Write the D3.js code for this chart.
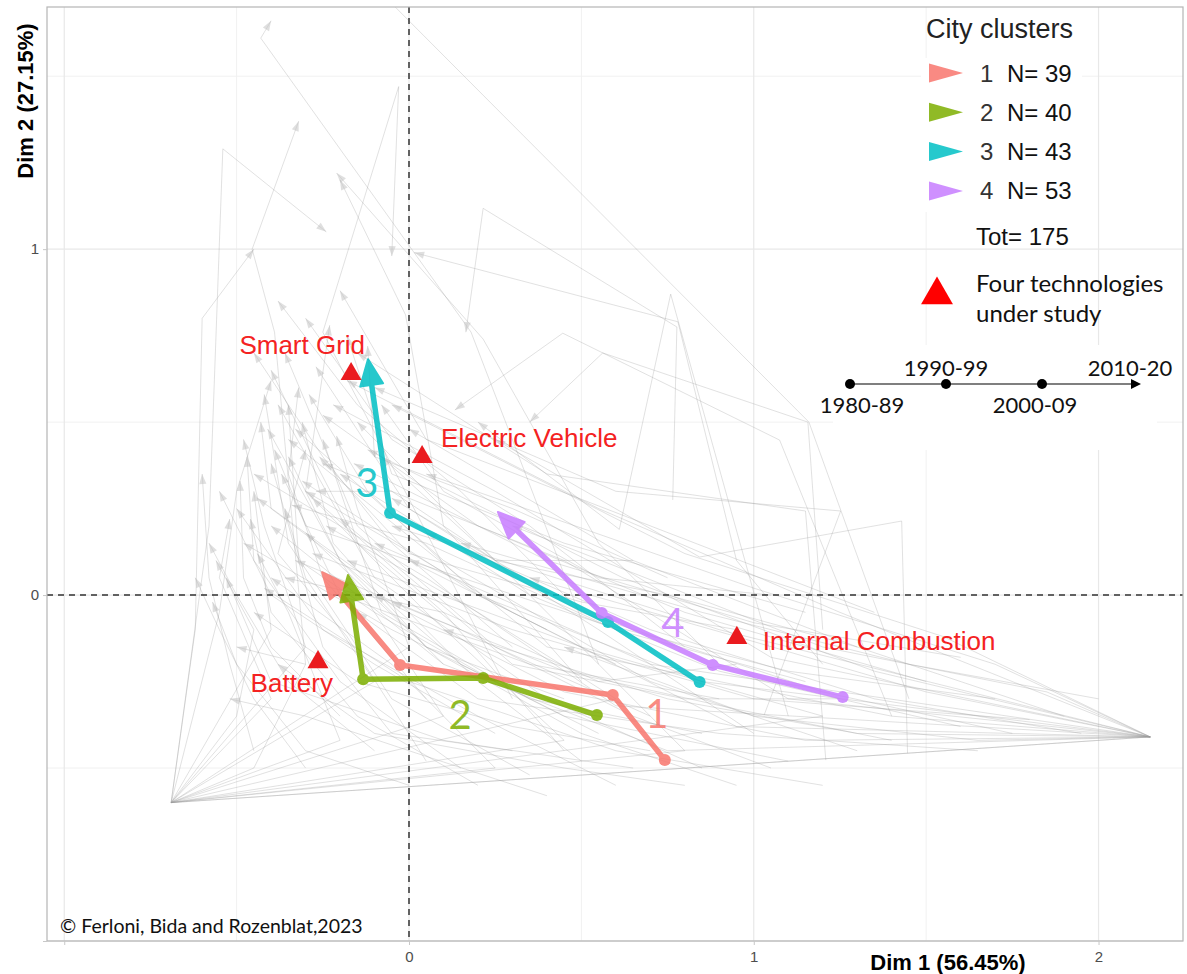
<!DOCTYPE html>
<html>
<head>
<meta charset="utf-8">
<script src="https://cdn.jsdelivr.net/npm/d3@7"></script>
<style>
body{margin:0;background:#fff;}
svg{display:block;}
</style>
</head>
<body>
<svg id="chart" width="1187" height="974"></svg>
<script>
// ---------- data ----------
var clusterIds=["1","2","3","4"];
var clusterN=[39,40,43,53];
var clusterTotal=175;
var clusterColors=["#F8766D","#7CAE00","#00BFC4","#C77CFF"];
var periods=["1980-89","1990-99","2000-09","2010-20"];

// mean path of each cluster: [dim1,dim2] for each period
var clusterPaths=[
	[[0.742,-0.477],[0.591,-0.289],[-0.026,-0.202],[-0.252,0.066]],
	[[0.545,-0.347],[0.215,-0.240],[-0.133,-0.243],[-0.177,0.058]],
	[[0.843,-0.251],[0.577,-0.078],[-0.055,0.237],[-0.119,0.682]],
	[[1.258,-0.295],[0.881,-0.202],[0.559,-0.052],[0.258,0.240]]
];
var clusterLabelX=[0.719,0.148,-0.122,0.765];
var clusterLabelY=[-0.384,-0.387,0.283,-0.121];

var techNames=["Smart Grid","Electric Vehicle","Battery","Internal Combustion"];
var techX=[-0.168,0.038,-0.264,0.951];
var techY=[0.639,0.399,-0.194,-0.124];

// single city paths (grey): x1,y1, x2,y2, x3,y3, x4,y4 (one pair per period)
var cityPaths=[
	[2.15,-0.41, 1.35,-0.22, 0.62,0.05, -0.12,0.42],
	[2.15,-0.41, 1.10,-0.30, 0.45,0.10, -0.25,0.38],
	[2.15,-0.41, 1.55,-0.12, 0.80,0.12, -0.05,0.55],
	[2.15,-0.41, 0.95,-0.38, 0.30,-0.05, -0.30,0.30],
	[2.15,-0.41, 1.25,-0.05, 0.55,0.25, -0.18,0.62],
	[2.15,-0.41, 0.75,-0.45, 0.10,-0.20, -0.40,0.20],
	[2.15,-0.41, 1.70,-0.20, 1.00,0.02, 0.05,0.35],
	[2.15,-0.41, 1.40,-0.35, 0.40,-0.15, -0.35,0.45],
	[2.15,-0.41, 0.60,-0.32, 0.05,0.05, -0.45,0.35],
	[2.15,-0.41, 1.85,-0.28, 1.20,-0.15, 0.30,0.20],
	[2.15,-0.41, 1.05,-0.18, 0.25,0.30, -0.22,0.55],
	[2.15,-0.41, 1.60,-0.33, 0.70,-0.20, -0.10,0.15],
	[2.15,-0.41, -0.69,-0.60, -0.40,-0.10, -0.45,0.30],
	[-0.69,-0.60, 2.15,-0.41, 0.90,-0.10, -0.05,0.20],
	[-0.69,-0.60, -0.30,-0.15, -0.42,0.20, -0.48,0.45],
	[-0.69,-0.60, -0.55,-0.05, -0.50,0.30, -0.40,0.62],
	[-0.69,-0.60, 0.10,-0.35, -0.20,0.10, -0.35,0.40],
	[-0.69,-0.60, -0.62,-0.10, -0.60,0.80, -0.45,1.00],
	[-0.69,-0.60, 0.45,-0.42, 0.05,-0.05, -0.28,0.28],
	[-0.69,-0.60, -0.40,-0.30, -0.55,0.05, -0.52,0.22],
	[-0.69,-0.60, 0.80,-0.45, 0.30,0.05, -0.15,0.50],
	[-0.69,-0.60, -0.20,-0.42, -0.35,-0.05, -0.44,0.12],
	[-0.69,-0.60, -0.58,0.20, -0.54,1.29, -0.24,1.05],
	[-0.69,-0.60, 0.25,-0.50, -0.05,-0.20, -0.40,0.05],
	[-0.69,-0.60, -0.45,-0.50, -0.30,-0.20, -0.50,-0.15],
	[1.45,-0.30, 1.16,0.50, -0.09,1.75, -0.15,1.85],
	[0.55,-0.20, 0.18,0.76, -0.43,1.61, -0.40,1.66],
	[-0.30,-0.20, -0.39,0.76, -0.455,1.00, -0.32,1.37],
	[0.30,-0.30, -0.25,0.76, -0.03,1.47, -0.05,0.98],
	[0.90,-0.20, 0.55,0.15, 0.215,0.74, -0.21,1.22],
	[0.50,-0.25, 0.10,0.20, -0.01,0.81, -0.20,1.20],
	[0.765,0.275, 0.777,0.775, 0.215,1.118, 0.165,0.76],
	[1.20,-0.20, 0.95,0.10, 0.78,0.79, 0.015,0.99],
	[1.40,-0.35, 1.075,0.448, 0.446,0.757, 0.133,0.535],
	[1.20,-0.10, 1.157,0.50, 0.562,0.70, 0.35,0.50],
	[1.446,-0.457, 1.429,0.214, 0.843,0.11, 0.25,0.45],
	[1.10,-0.35, 0.759,0.87, 0.61,0.19, 0.20,0.50],
	[1.03,-0.347, 1.252,0.243, 0.60,0.30, -0.10,0.60],
	[1.209,-0.477, 1.15,0.243, 0.40,0.35, -0.15,0.70],
	[0.85,-0.50, 0.40,-0.30, -0.10,0.05, -0.38,0.55],
	[1.30,-0.45, 0.70,-0.25, 0.10,0.10, -0.33,0.48],
	[0.60,-0.55, 0.20,-0.35, -0.25,-0.10, -0.50,0.25],
	[1.00,-0.40, 0.55,-0.10, 0.00,0.25, -0.27,0.66],
	[0.35,-0.52, -0.05,-0.30, -0.35,0.15, -0.42,0.58],
	[1.60,-0.38, 0.90,-0.22, 0.35,0.00, -0.20,0.35],
	[0.15,-0.50, -0.20,-0.25, -0.45,0.10, -0.47,0.40],
	[1.75,-0.40, 1.20,-0.28, 0.50,-0.05, -0.05,0.28],
	[0.95,-0.55, 0.50,-0.40, 0.05,-0.15, -0.30,0.18],
	[1.50,-0.25, 0.80,-0.05, 0.20,0.20, -0.25,0.52],
	[0.70,-0.35, 0.25,-0.15, -0.15,0.20, -0.36,0.70],
	[1.20,-0.55, 0.60,-0.45, 0.00,-0.25, -0.42,0.02],
	[0.45,-0.45, 0.10,-0.05, -0.30,0.30, -0.23,0.78],
	[1.90,-0.35, 1.30,-0.15, 0.65,0.10, 0.00,0.48],
	[0.25,-0.40, -0.10,-0.20, -0.40,0.00, -0.55,0.30],
	[0.80,-0.15, 0.35,0.20, -0.05,0.45, -0.30,0.80],
	[1.10,-0.48, 0.45,-0.35, -0.05,-0.10, -0.48,0.15],
	[0.50,-0.05, 0.15,0.30, -0.15,0.55, -0.38,0.85],
	[-0.10,-0.45, -0.35,-0.25, -0.50,0.00, -0.58,0.15],
	[1.35,-0.05, 0.70,0.20, 0.05,0.45, -0.20,0.88],
	[0.65,-0.50, 0.10,-0.42, -0.40,-0.25, -0.53,0.05],
	[2.00,-0.30, 1.45,-0.20, 0.85,-0.05, 0.15,0.15],
	[0.30,-0.15, -0.05,0.15, -0.25,0.40, -0.45,0.70],
	[0.90,-0.30, 0.35,-0.20, -0.20,0.00, -0.37,0.35],
	[-0.30,-0.50, -0.45,-0.30, -0.55,-0.10, -0.62,0.05],
	[0.40,-0.58, 0.00,-0.45, -0.30,-0.35, -0.52,-0.30],
	[1.65,-0.45, 0.90,-0.40, 0.20,-0.30, -0.15,-0.05],
	[0.05,-0.30, -0.25,0.05, -0.35,0.35, -0.32,0.60],
	[0.75,0.05, 0.30,0.25, -0.10,0.40, -0.12,0.72],
	[1.05,0.00, 0.55,0.05, 0.10,0.30, -0.08,0.55],
	[1.80,-0.36, 1.00,-0.30, 0.30,-0.10, -0.28,0.12],
	[0.20,-0.55, -0.15,-0.35, -0.40,-0.05, -0.46,0.22],
	[1.15,-0.25, 0.60,-0.10, 0.05,0.15, -0.34,0.26],
	[0.55,-0.40, 0.15,-0.20, -0.20,0.10, -0.41,0.48],
	[-0.69,-0.60, 0.60,-0.30, 0.20,-0.05, -0.24,0.20],
	[-0.69,-0.60, 1.20,-0.35, 0.50,-0.15, -0.18,0.10],
	[-0.69,-0.60, -0.10,-0.25, -0.30,0.05, -0.36,0.25],
	[2.15,-0.41, 1.30,-0.40, 0.75,-0.30, 0.10,-0.10],
	[2.15,-0.41, 0.85,-0.25, 0.20,0.00, -0.31,0.33],
	[2.15,-0.41, 1.50,-0.28, 0.95,-0.12, 0.35,0.05],
	[0.10,-0.20, -0.20,0.10, -0.40,0.25, -0.43,0.50],
	[0.40,-0.10, 0.00,0.10, -0.30,0.20, -0.39,0.42],
	[0.70,-0.45, 0.30,-0.38, -0.15,-0.25, -0.45,-0.05],
	[1.40,-0.42, 0.95,-0.33, 0.45,-0.22, -0.05,-0.02],
	[0.95,-0.10, 0.50,-0.02, 0.00,0.12, -0.26,0.40],
	[0.25,-0.25, -0.10,-0.05, -0.32,0.10, -0.35,0.55],
	[-0.20,-0.35, -0.40,-0.15, -0.48,0.05, -0.49,0.33],
	[1.25,-0.30, 0.80,-0.30, 0.30,-0.20, -0.20,0.22],
	[0.60,-0.20, 0.20,0.00, -0.12,0.30, -0.29,0.58],
	[1.60,-0.18, 1.00,-0.08, 0.40,0.10, -0.16,0.38],
	[0.00,-0.55, -0.30,-0.45, -0.50,-0.20, -0.57,-0.02],
	[0.85,-0.40, 0.35,-0.30, -0.08,-0.05, -0.25,0.45],
	[0.45,-0.30, 0.05,-0.15, -0.22,0.15, -0.31,0.50],
	[1.05,-0.50, 0.65,-0.35, 0.15,-0.10, -0.33,0.10],
	[-0.69,-0.60, 0.00,-0.15, -0.15,0.25, -0.21,0.46],
	[-0.69,-0.60, -0.50,-0.35, -0.45,-0.10, -0.56,0.10],
	[2.15,-0.41, 1.15,-0.42, 0.45,-0.28, -0.10,0.00],
	[1.95,-0.40, 1.35,-0.30, 0.70,-0.10, 0.05,0.18],
	[0.30,-0.45, -0.05,-0.40, -0.25,-0.15, -0.40,0.38],
	[0.65,0.10, 0.25,0.10, -0.05,0.30, -0.27,0.30],
	[1.15,-0.05, 0.45,0.15, -0.05,0.35, -0.18,0.75],
	[0.15,-0.10, -0.15,0.15, -0.28,0.40, -0.40,0.65],
	[0.80,-0.55, 0.45,-0.50, -0.10,-0.40, -0.38,-0.20],
	[1.70,-0.30, 1.10,-0.22, 0.55,-0.08, 0.00,0.10],
	[0.50,-0.48, 0.20,-0.25, -0.05,0.00, -0.44,0.28],
	[-0.45,-0.45, -0.52,-0.20, -0.58,0.05, -0.60,0.35],
	[1.30,-0.15, 0.75,0.00, 0.25,0.10, -0.08,0.40],
	[0.05,-0.48, -0.18,-0.12, -0.38,0.12, -0.30,0.42],
	[2.15,-0.41, 1.65,-0.42, 1.00,-0.35, 0.45,-0.15],
	[0.95,-0.20, 0.55,-0.25, 0.10,-0.05, -0.36,0.05]
];

var xTicks=[-1,0,1,2];
var yTicks=[-1,0,1];
var xMinor=[-0.5,0.5,1.5];
var yMinor=[-0.5,0.5,1.5];
var xTitle="Dim 1 (56.45%)";
var yTitle="Dim 2 (27.15%)";
var credit="\u00A9 Ferloni, Bida and Rozenblat,2023";

// ---------- layout ----------
var panel={left:47,right:1183,top:7,bottom:941};
var svg=d3.select("#chart");
var x=d3.scaleLinear().domain([-1.05,2.245]).range([panel.left,panel.right]);
var y=d3.scaleLinear().domain([-1.0,1.70]).range([panel.bottom,panel.top]);
var sans="'Liberation Sans',Arial,Helvetica,sans-serif";
var soft="Lato,'Liberation Sans',sans-serif";

svg.append("defs").append("clipPath").attr("id","panelClip")
	.append("rect").attr("x",panel.left).attr("y",panel.top)
	.attr("width",panel.right-panel.left).attr("height",panel.bottom-panel.top);

// arrow head polygon from previous point to tip (pixel space)
function headPoints(p0,p1,len,half){
	var dx=p1[0]-p0[0],dy=p1[1]-p0[1];
	var d=Math.sqrt(dx*dx+dy*dy)||1;
	var ux=dx/d,uy=dy/d;
	var bx=p1[0]-ux*len,by=p1[1]-uy*len;
	return [[p1[0],p1[1]],[bx-uy*half,by+ux*half],[bx+uy*half,by-ux*half]];
}

// grid
var grid=svg.append("g");
grid.selectAll(".gxm").data(xMinor).enter().append("line")
	.attr("x1",function(d){return x(d);}).attr("x2",function(d){return x(d);})
	.attr("y1",panel.top).attr("y2",panel.bottom)
	.attr("stroke","#f1f1f1").attr("stroke-width",1);
grid.selectAll(".gym").data(yMinor).enter().append("line")
	.attr("y1",function(d){return y(d);}).attr("y2",function(d){return y(d);})
	.attr("x1",panel.left).attr("x2",panel.right)
	.attr("stroke","#f1f1f1").attr("stroke-width",1);
grid.selectAll(".gx").data(xTicks).enter().append("line")
	.attr("x1",function(d){return x(d);}).attr("x2",function(d){return x(d);})
	.attr("y1",panel.top).attr("y2",panel.bottom)
	.attr("stroke","#e8e8e8").attr("stroke-width",1.2);
grid.selectAll(".gy").data(yTicks).enter().append("line")
	.attr("y1",function(d){return y(d);}).attr("y2",function(d){return y(d);})
	.attr("x1",panel.left).attr("x2",panel.right)
	.attr("stroke","#e8e8e8").attr("stroke-width",1.2);

// grey city trajectories
var cityG=svg.append("g").attr("clip-path","url(#panelClip)");
var line=d3.line().x(function(d){return x(d[0]);}).y(function(d){return y(d[1]);});
cityPaths.forEach(function(c){
	var pts=[[c[0],c[1]],[c[2],c[3]],[c[4],c[5]],[c[6],c[7]]];
	cityG.append("path").attr("d",line(pts))
		.attr("fill","none").attr("stroke","#9a9a9a").attr("stroke-opacity",0.3).attr("stroke-width",1);
	var p0=[x(pts[2][0]),y(pts[2][1])],p1=[x(pts[3][0]),y(pts[3][1])];
	cityG.append("polygon").attr("points",headPoints(p0,p1,10,3.6).join(" "))
		.attr("fill","#c4c4c4").attr("fill-opacity",0.55);
});

// reference lines at 0
svg.append("line").attr("x1",x(0)).attr("x2",x(0)).attr("y1",panel.top).attr("y2",panel.bottom)
	.attr("stroke","#333").attr("stroke-width",1.5).attr("stroke-dasharray","6,5");
svg.append("line").attr("y1",y(0)).attr("y2",y(0)).attr("x1",panel.left).attr("x2",panel.right)
	.attr("stroke","#333").attr("stroke-width",1.5).attr("stroke-dasharray","6,5");

// panel border
svg.append("rect").attr("x",panel.left).attr("y",panel.top)
	.attr("width",panel.right-panel.left).attr("height",panel.bottom-panel.top)
	.attr("fill","none").attr("stroke","#b5b5b5").attr("stroke-width",1.2);

// cluster mean trajectories
var clG=svg.append("g");
clusterPaths.forEach(function(p,i){
	var g=clG.append("g").attr("opacity",0.85);
	var col=clusterColors[i];
	var p0=[x(p[2][0]),y(p[2][1])],p1=[x(p[3][0]),y(p[3][1])];
	var head=headPoints(p0,p1,26,11.5);
	// stop the line at the arrow base
	var bx=(head[1][0]+head[2][0])/2,by=(head[1][1]+head[2][1])/2;
	var lp=p.slice(0,3).map(function(d){return [x(d[0]),y(d[1])];});
	lp.push([bx,by]);
	g.append("path").attr("d",d3.line()(lp)).attr("fill","none")
		.attr("stroke",col).attr("stroke-width",5.5).attr("stroke-linejoin","round").attr("stroke-linecap","round");
	g.selectAll("circle").data(p.slice(0,3)).enter().append("circle")
		.attr("cx",function(d){return x(d[0]);}).attr("cy",function(d){return y(d[1]);})
		.attr("r",6).attr("fill",col);
	g.append("polygon").attr("points",head.join(" ")).attr("fill",col)
		.attr("stroke",col).attr("stroke-width",2).attr("stroke-linejoin","round");
});

// cluster numbers
svg.selectAll(".clab").data(clusterIds).enter().append("text")
	.attr("x",function(d,i){return x(clusterLabelX[i]);})
	.attr("y",function(d,i){return y(clusterLabelY[i]);})
	.attr("text-anchor","middle").attr("font-family",soft).attr("font-size",40)
	.attr("fill",function(d,i){return clusterColors[i];}).attr("fill-opacity",0.85)
	.text(function(d){return d;});

// technologies
var techLab=[{dx:14,dy:-20,a:"end"},{dx:19,dy:-10,a:"start"},{dx:15,dy:30,a:"end"},{dx:26,dy:12,a:"start"}];
var techG=svg.append("g");
techNames.forEach(function(t,i){
	techG.append("path").attr("d",d3.symbol().type(d3.symbolTriangle).size(190)())
		.attr("transform","translate("+x(techX[i])+","+y(techY[i])+")")
		.attr("fill","#ea1b1f");
	techG.append("text").attr("x",x(techX[i])+techLab[i].dx).attr("y",y(techY[i])+techLab[i].dy)
		.attr("text-anchor",techLab[i].a).attr("font-family",sans).attr("font-size",26)
		.attr("fill","#f42222").text(t);
});

// axes
var xAxis=svg.append("g").attr("transform","translate(0,"+panel.bottom+")")
	.call(d3.axisBottom(x).tickValues(xTicks).tickSize(4).tickPadding(6)
		.tickFormat(function(d){return d<0?"":d3.format("d")(d);}));
var yAxis=svg.append("g").attr("transform","translate("+panel.left+",0)")
	.call(d3.axisLeft(y).tickValues(yTicks).tickSize(4).tickPadding(4)
		.tickFormat(function(d){return d<0?"":d3.format("d")(d);}));
[xAxis,yAxis].forEach(function(a){
	a.select(".domain").remove();
	a.selectAll(".tick line").attr("stroke","#c8c8c8");
	a.selectAll(".tick text").attr("fill","#4d4d4d").attr("font-family",sans).attr("font-size",15);
});
svg.append("text").attr("x",948).attr("y",970).attr("text-anchor","middle")
	.attr("font-family",sans).attr("font-weight","bold").attr("font-size",22).attr("fill","#000").text(xTitle);
svg.append("text").attr("transform","translate(33,101) rotate(-90)").attr("text-anchor","middle")
	.attr("font-family",sans).attr("font-weight","bold").attr("font-size",22).attr("fill","#000").text(yTitle);

// credit
svg.append("text").attr("x",60).attr("y",933).attr("font-family",soft).attr("font-size",19.5)
	.attr("fill","#111").text(credit);

// legend
var leg=svg.append("g");
leg.append("rect").attr("x",921).attr("y",58).attr("width",161).attr("height",154).attr("fill","#fff");
leg.append("text").attr("x",926).attr("y",38).attr("font-family",sans).attr("font-size",27)
	.attr("fill","#222").text("City clusters");
clusterIds.forEach(function(c,i){
	var cy=73+i*39.3;
	leg.append("polygon").attr("points",[[929,cy-9.5],[929,cy+9.5],[963,cy]].join(" "))
		.attr("fill",clusterColors[i]).attr("fill-opacity",0.85);
	leg.append("text").attr("x",980).attr("y",cy+8.5).attr("font-family",sans).attr("font-size",24)
		.attr("fill","#333").text(c);
	leg.append("text").attr("x",1007).attr("y",cy+8.5).attr("font-family",sans).attr("font-size",24)
		.attr("fill","#111").text("N= "+clusterN[i]);
});
leg.append("text").attr("x",976).attr("y",245).attr("font-family",sans).attr("font-size",24)
	.attr("fill","#111").text("Tot= "+clusterTotal);
leg.append("path").attr("d",d3.symbol().type(d3.symbolTriangle).size(440)())
	.attr("transform","translate(937,295)").attr("fill","#ff0000");
leg.append("text").attr("x",976).attr("y",292).attr("font-family",soft).attr("font-size",24)
	.attr("fill","#111").text("Four technologies");
leg.append("text").attr("x",976).attr("y",322).attr("font-family",soft).attr("font-size",24)
	.attr("fill","#111").text("under study");

// period timeline
var tl=svg.append("g");
tl.append("rect").attr("x",833).attr("y",345).attr("width",324).attr("height",105).attr("fill","#fff");
var t=d3.scalePoint().domain(periods).range([850,1138]);
tl.append("line").attr("x1",t(periods[0])).attr("x2",t(periods[3])-6).attr("y1",384).attr("y2",384)
	.attr("stroke","#555").attr("stroke-width",1.5);
tl.append("polygon").attr("points",headPoints([t(periods[2]),384],[t(periods[3])+3,384],10,5).join(" "))
	.attr("fill","#000");
tl.selectAll("circle").data(periods.slice(0,3)).enter().append("circle")
	.attr("cx",function(d){return t(d);}).attr("cy",384).attr("r",5).attr("fill","#000");
tl.selectAll(".tlab").data(periods).enter().append("text")
	.attr("x",function(d,i){return t(d)+[12,0,-7,-8][i];})
	.attr("y",function(d,i){return i%2===0?413:376;})
	.attr("text-anchor","middle").attr("font-family",soft).attr("font-size",22)
	.attr("fill","#111").text(function(d){return d;});
</script>
</body>
</html>
